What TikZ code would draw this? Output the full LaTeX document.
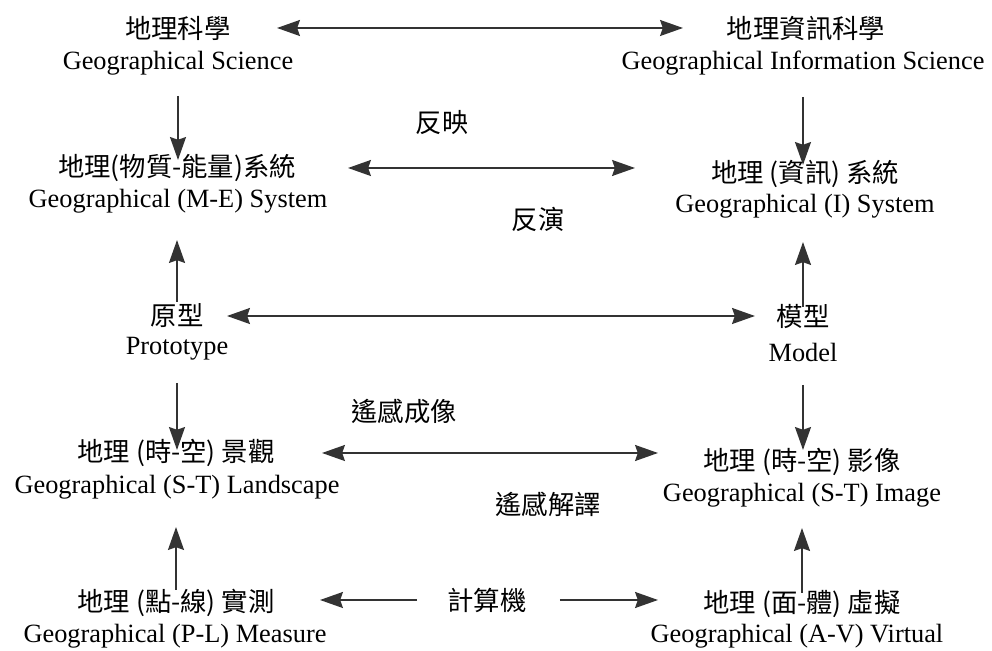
\documentclass[tikz,border=0pt]{standalone}
\usepackage{fontspec}
\setmainfont{Liberation Serif}
\newfontfamily\cjk{Noto Sans CJK TC}
\usepackage{tikz}
\usetikzlibrary{arrows.meta}
\tikzset{
    %Define standard arrow tip
    >={Stealth[length=13pt,width=9pt,inset=1.5pt]},
    % Define arrow style
    pil/.style={
           ->,
           line width=1.4pt,
           draw=black!80,},
    dobpil/.style={
           <->,
           line width=1.4pt,
           draw=black!80,},
    % Define text styles
    zh/.style={font=\cjk\fontsize{15}{18}\selectfont, inner sep=0pt},
    eng/.style={font=\fontsize{15}{18}\selectfont, inner sep=0pt}
}

\begin{document}
\begin{tikzpicture}[x=0.02cm,y=-0.02cm]
  \useasboundingbox (0,0) rectangle (992,651);
  \node (gs) at (178,28) [zh] {地理科學};
  \node (gs-en) at (178,63) [eng] {Geographical Science};
  \node (gis) at (806,28) [zh] {地理資訊科學};
  \node (gis-en) at (803,63) [eng] {Geographical Information Science};
  \node (mes) at (177,168) [zh] {地理(物質-能量)系統};
  \node (mes-en) at (178,201) [eng] {Geographical (M-E) System};
  \node (isys) at (805,174) [zh] {地理 (資訊) 系統};
  \node (isys-en) at (805,206) [eng] {Geographical (I) System};
  \node (proto) at (177,316) [zh] {原型};
  \node (proto-en) at (177,349) [eng] {Prototype};
  \node (model) at (803,317) [zh] {模型};
  \node (model-en) at (803,352) [eng] {Model};
  \node (land) at (176,453) [zh] {地理 (時-空) 景觀};
  \node (land-en) at (177,487) [eng] {Geographical (S-T) Landscape};
  \node (img) at (802,462) [zh] {地理 (時-空) 影像};
  \node (img-en) at (802,495) [eng] {Geographical (S-T) Image};
  \node (meas) at (176,603) [zh] {地理 (點-線) 實測};
  \node (meas-en) at (175,636) [eng] {Geographical (P-L) Measure};
  \node (virt) at (802,604) [zh] {地理 (面-體) 虛擬};
  \node (virt-en) at (797,636) [eng] {Geographical (A-V) Virtual};
  \node (comp) at (487,600) [zh] {計算機};
  \node (fanying) at (442,123) [zh] {反映};
  \node (fanyan) at (538,219) [zh] {反演};
  \node (chengxiang) at (404,411) [zh] {遙感成像};
  \node (jieyi) at (548,504) [zh] {遙感解譯};
%  horizontal links
  \draw [dobpil, shorten <=1.98cm, shorten >=2.46cm] (gs.center) -- (gs.center -| gis.center);
  \draw [dobpil, shorten <=3.42cm, shorten >=3.40cm] (mes.center) -- (mes.center -| isys.center);
  \draw [dobpil, shorten <=1.00cm, shorten >=0.96cm] (proto.center) -- (proto.center -| model.center);
  \draw [dobpil, shorten <=2.92cm, shorten >=2.88cm] (land.center) -- (land.center -| img.center);
  \draw [pil, shorten <=1.40cm, shorten >=2.88cm] (comp.center) -- (comp.center -| meas.center);
  \draw [pil, shorten <=1.46cm, shorten >=2.88cm] (comp.center) -- (comp.center -| virt.center);
%  vertical links
  \draw [pil, shorten <=0.66cm, shorten >=0.16cm] (gs-en.center) -- (gs-en.center |- mes.center);
  \draw [pil, shorten <=0.68cm, shorten >=0.18cm] (gis-en.center) -- (gis-en.center |- isys.center);
  \draw [pil, shorten <=0.28cm, shorten >=0.78cm] (proto.center) -- (proto.center |- mes-en.center);
  \draw [pil, shorten <=0.20cm, shorten >=0.72cm] (model.center) -- (model.center |- isys-en.center);
  \draw [pil, shorten <=0.68cm, shorten >=0.06cm] (proto-en.center) -- (proto-en.center |- land.center);
  \draw [pil, shorten <=0.66cm, shorten >=0.24cm] (model-en.center) -- (model-en.center |- img.center);
  \draw [pil, shorten <=0.26cm, shorten >=0.80cm] (meas.center) -- (meas.center |- land-en.center);
  \draw [pil, shorten <=0.22cm, shorten >=0.66cm] (virt.center) -- (virt.center |- img-en.center);
\end{tikzpicture}
\end{document}
